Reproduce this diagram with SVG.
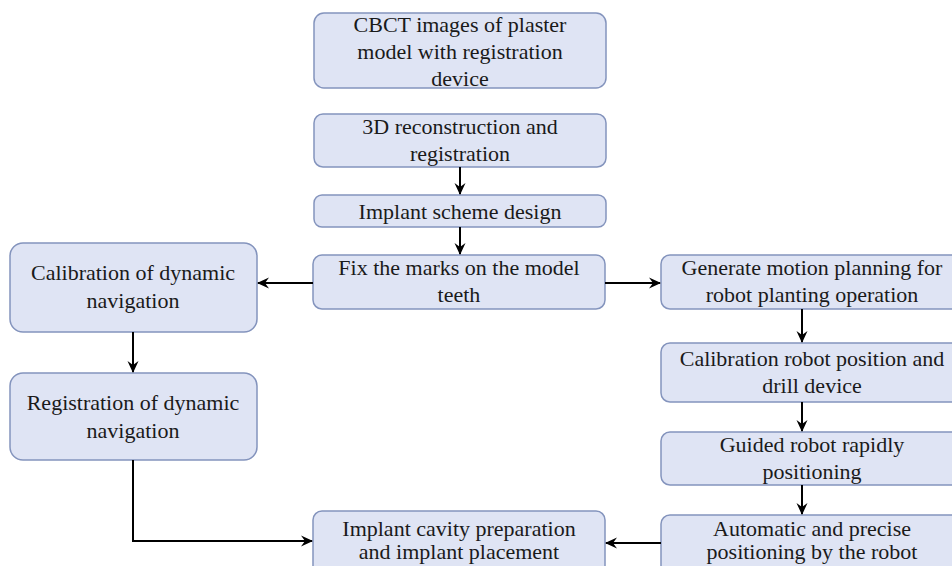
<svg xmlns="http://www.w3.org/2000/svg" width="952" height="566" viewBox="0 0 952 566">
<defs>
<style>
.box{fill:#dfe4f4;stroke:#8494bd;stroke-width:1.5}
.t{font-family:"Liberation Serif","Times New Roman",serif;font-size:22px;fill:#1a1a1a;text-anchor:middle}
.c{fill:none;stroke:#000;stroke-width:2}
</style>
<marker id="ah" viewBox="0 0 12 12" refX="11" refY="6" markerWidth="12" markerHeight="12" markerUnits="userSpaceOnUse" orient="auto">
<path d="M0,0.5 L12,6 L0,11.5 L4,6 Z" fill="#000"/>
</marker>
</defs>
<rect width="952" height="566" fill="#fff"/>
<g id="n1"><rect class="box" x="314" y="13" width="292" height="75" rx="10"/>
<text class="t"><tspan x="460" y="32">CBCT images of plaster</tspan><tspan x="460" y="59">model with registration</tspan><tspan x="460" y="86">device</tspan></text></g>
<g id="n2"><rect class="box" x="314" y="114" width="292" height="53" rx="9"/>
<text class="t"><tspan x="460" y="134">3D reconstruction and</tspan><tspan x="460" y="161">registration</tspan></text></g>
<g id="n3"><rect class="box" x="314" y="195" width="292" height="32" rx="8"/>
<text class="t" x="460" y="219">Implant scheme design</text></g>
<g id="n4"><rect class="box" x="313" y="255" width="292" height="54" rx="9"/>
<text class="t"><tspan x="459" y="275">Fix the marks on the model</tspan><tspan x="459" y="302">teeth</tspan></text></g>
<g id="n5"><rect class="box" x="10" y="243" width="247" height="89" rx="13"/>
<text class="t"><tspan x="133" y="280">Calibration of dynamic</tspan><tspan x="133" y="308">navigation</tspan></text></g>
<g id="n6"><rect class="box" x="10" y="373" width="247" height="87" rx="13"/>
<text class="t"><tspan x="133" y="410">Registration of dynamic</tspan><tspan x="133" y="438">navigation</tspan></text></g>
<g id="n7"><rect class="box" x="661" y="255" width="302" height="54" rx="9"/>
<text class="t"><tspan x="812" y="275">Generate motion planning for</tspan><tspan x="812" y="302">robot planting operation</tspan></text></g>
<g id="n8"><rect class="box" x="661" y="343" width="302" height="59" rx="9"/>
<text class="t"><tspan x="812" y="366">Calibration robot position and</tspan><tspan x="812" y="393">drill device</tspan></text></g>
<g id="n9"><rect class="box" x="661" y="432" width="302" height="53" rx="9"/>
<text class="t"><tspan x="812" y="452">Guided robot rapidly</tspan><tspan x="812" y="479">positioning</tspan></text></g>
<g id="n10"><rect class="box" x="661" y="515" width="302" height="70" rx="9"/>
<text class="t"><tspan x="812" y="536">Automatic and precise</tspan><tspan x="812" y="559">positioning by the robot</tspan></text></g>
<g id="n11"><rect class="box" x="313" y="511" width="292" height="70" rx="9"/>
<text class="t"><tspan x="459" y="536">Implant cavity preparation</tspan><tspan x="459" y="559">and implant placement</tspan></text></g>
<g id="connectors">
<path class="c" d="M460,167 V194" marker-end="url(#ah)"/>
<path class="c" d="M460,227 V254" marker-end="url(#ah)"/>
<path class="c" d="M313,283 H258" marker-end="url(#ah)"/>
<path class="c" d="M605,283 H660" marker-end="url(#ah)"/>
<path class="c" d="M133,332 V372" marker-end="url(#ah)"/>
<path class="c" d="M133,460 V541 H312" marker-end="url(#ah)"/>
<path class="c" d="M802,309 V342" marker-end="url(#ah)"/>
<path class="c" d="M802,402 V431" marker-end="url(#ah)"/>
<path class="c" d="M802,485 V514" marker-end="url(#ah)"/>
<path class="c" d="M661,543 H606" marker-end="url(#ah)"/>
</g>
</svg>
